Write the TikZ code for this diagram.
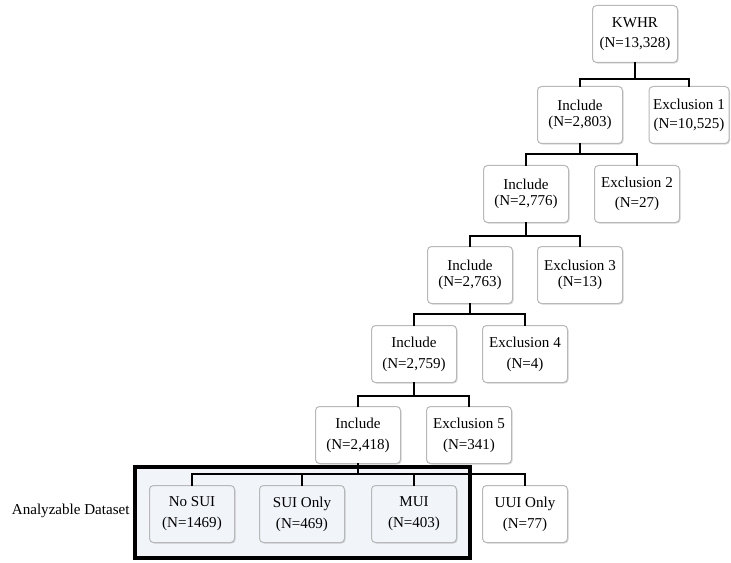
\documentclass[tikz,border=0pt]{standalone}
\usepackage{fontspec}
\setmainfont{Liberation Serif}
\usetikzlibrary{shadows}

\definecolor{setfill}{RGB}{241,244,249}
\tikzset{every picture/.style={line width=0.75pt}}
\tikzset{
  box/.style={draw=black!28, fill=white, rounded corners=3pt, align=center,
    minimum width=63.75pt, minimum height=42.75pt, inner sep=1pt,
    font=\fontsize{11.3}{13.2}\selectfont,
    drop shadow={shadow xshift=0.8pt, shadow yshift=-0.8pt, opacity=0.3}},
  setbox/.style={box, fill=setfill},
  conn/.style={line width=2.2pt, line cap=rect}
}

\begin{document}
\begin{tikzpicture}[x=0.75pt,y=0.75pt,yscale=-1,xscale=1]
    \useasboundingbox (0,0) rectangle (731,563);
    % analyzable dataset frame
    \draw [line width=2.4pt, fill=setfill] (135,467) rectangle (470,558) ;
    \node (lab) [anchor=east, inner sep=0.75pt, font=\fontsize{11.3}{13}\selectfont] at (131,511) {Analyzable Dataset};

    \node [box] (kwhr) at (635,34) {KWHR\\[2pt](N=13,328)};
    \node [box] (inc1) at (580,115) {Include\\[-1pt](N=2,803)};
    \node [box, minimum width=60pt] (exc1) at (689,115) {Exclusion 1\\[1pt](N=10,525)};
    \node [box] (inc2) at (526,194) {Include\\[-1pt](N=2,776)};
    \node [box] (exc2) at (637,194) {Exclusion 2\\[2pt](N=27)};
    \node [box] (inc3) at (470,275) {Include\\[-1pt](N=2,763)};
    \node [box] (exc3) at (580,275) {Exclusion 3\\[-1pt](N=13)};
    \node [box] (inc4) at (414,354) {Include\\[2.5pt](N=2,759)};
    \node [box] (exc4) at (525,354) {Exclusion 4\\[2.5pt](N=4)};
    \node [box] (inc5) at (358,435) {Include\\[2.5pt](N=2,418)};
    \node [box] (exc5) at (469,435) {Exclusion 5\\[2.5pt](N=341)};
    \node [setbox] (nosui) at (192,514) {No SUI\\[2.5pt](N=1469)};
    \node [setbox] (sui) at (302,514) {SUI Only\\[2.5pt](N=469)};
    \node [setbox] (mui) at (414,514) {MUI\\[2.5pt](N=403)};
    \node [box] (uui) at (525,514) {UUI Only\\[2.5pt](N=77)};

    % connectors
    \draw [conn] (kwhr.south) -- ++(0,16) -| (inc1.north);
    \draw [conn] (kwhr.south) -- ++(0,16) -| (exc1.north);
    \draw [conn] (inc1.south) -- ++(0,10) -| (inc2.north);
    \draw [conn] (inc1.south) -- ++(0,10) -| (exc2.north);
    \draw [conn] (inc2.south) -- ++(0,13) -| (inc3.north);
    \draw [conn] (inc2.south) -- ++(0,13) -| (exc3.north);
    \draw [conn] (inc3.south) -- ++(0,10) -| (inc4.north);
    \draw [conn] (inc3.south) -- ++(0,10) -| (exc4.north);
    \draw [conn] (inc4.south) -- ++(0,13) -| (inc5.north);
    \draw [conn] (inc4.south) -- ++(0,13) -| (exc5.north);
    \foreach \kid in {nosui,sui,mui,uui}
      \draw [conn] (inc5.south) -- ++(0,10) -| (\kid.north);
\end{tikzpicture}
\end{document}
